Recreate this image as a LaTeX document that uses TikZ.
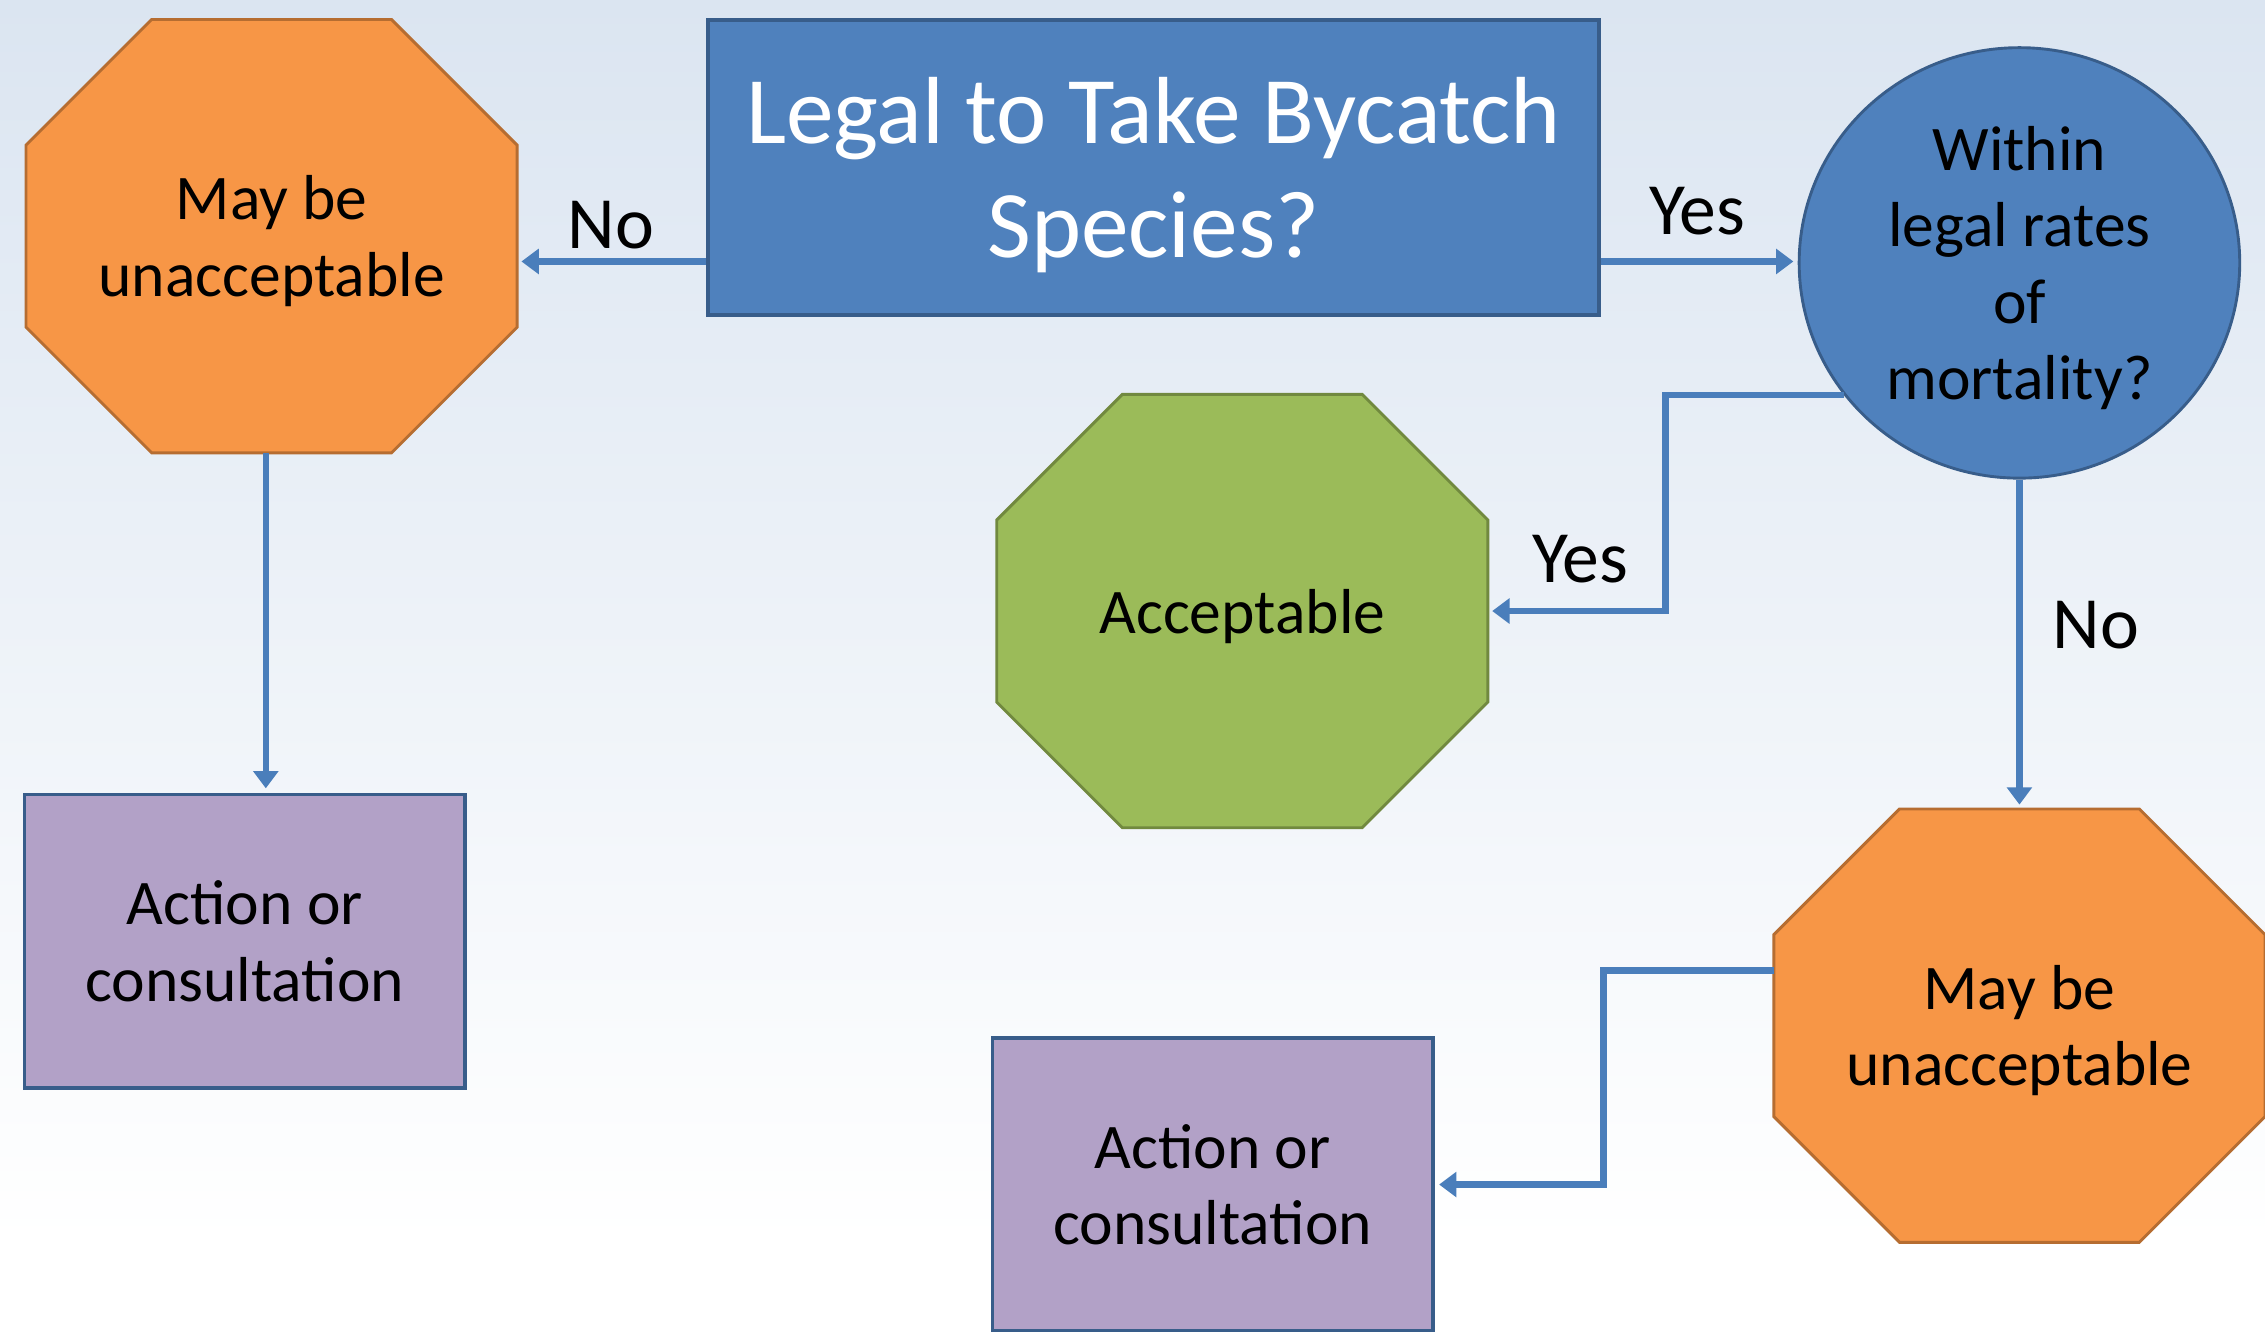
\documentclass[tikz,border=0pt]{standalone}
\usepackage{fontspec}
\setmainfont{Carlito}
\usetikzlibrary{shapes.geometric,arrows.meta,calc}

\definecolor{bgtop}{RGB}{219,229,241}
\definecolor{orgfill}{RGB}{247,150,70}
\definecolor{orgline}{RGB}{182,109,49}
\definecolor{bluefill}{RGB}{79,129,189}
\definecolor{blueline}{RGB}{56,93,138}
\definecolor{grnfill}{RGB}{155,187,89}
\definecolor{grnline}{RGB}{113,137,63}
\definecolor{purfill}{RGB}{178,161,199}
\definecolor{arrowblue}{RGB}{74,126,187}

\newcommand\txtbody{\fontsize{22}{26.5}\selectfont}
\newcommand\txthead{\fontsize{33}{39.5}\selectfont}
\newcommand\txtlbl{\fontsize{25.5}{30}\selectfont}

\pgfdeclarelayer{backdrop}
\pgfdeclarelayer{shapes}
\pgfsetlayers{backdrop,shapes,main}

% octagon behind a named node: name, fill, line
\newcommand\octshape[3]{%
  \filldraw[fill=#2, draw=#3, line width=1pt, line join=miter]
    ($(#1.north west)+(87,0)$) -- ($(#1.north east)+(-87,0)$) -- ($(#1.north east)+(0,87)$)
    -- ($(#1.south east)+(0,-87)$) -- ($(#1.south east)+(-87,0)$) -- ($(#1.south west)+(87,0)$)
    -- ($(#1.south west)+(0,-87)$) -- ($(#1.north west)+(0,87)$) -- cycle;}

\tikzset{
  octbox/.style={rectangle, minimum width=170pt, minimum height=150pt, inner sep=0pt, outer sep=0pt,
    align=center, text depth=0pt, font=\txtbody},
  qbox/.style={rectangle, fill=bluefill, draw=blueline, line width=1.25pt, minimum width=308.5pt,
    minimum height=102pt, align=center, text depth=0pt, text=white, font=\txthead},
  circbox/.style={ellipse, fill=bluefill, draw=blueline, line width=1pt, minimum width=152.5pt,
    minimum height=149pt, inner sep=0pt, align=center, text depth=0pt, font=\txtbody},
  actbox/.style={rectangle, fill=purfill, draw=blueline, line width=1.25pt, minimum width=152.5pt,
    minimum height=101.5pt, align=center, text depth=0pt, font=\txtbody},
  flow/.style={draw=arrowblue, line width=2.25pt, shorten >=1.5pt, -{Triangle[length=6pt,width=8.5pt]}},
  lbl/.style={inner sep=0pt, font=\txtlbl}
}

\begin{document}
\begin{tikzpicture}[x=0.5pt,y=0.5pt,yscale=-1,xscale=1]
%uncomment if require: \path (0,922); %set diagram left start at 0, and has height of 922
\useasboundingbox (0,0) rectangle (1568,922);
\clip (0,0) rectangle (1568,922);

%Background
\begin{pgfonlayer}{backdrop}
\fill[white] (0,0) rectangle (1568,922);
\shade[top color=bgtop, bottom color=white] (0,0) rectangle (1568,860);
\end{pgfonlayer}

%Shape: Rectangle [question]
\node[qbox] (legal) at (798.5,116) {Legal to Take Bycatch\\Species?};
%Shape: Octagon [left]
\node[octbox] (mayA) at (188,163.5) {May be\\unacceptable};
%Shape: Ellipse
\node[circbox] (within) at (1398,182) {Within\\legal rates\\of\\mortality?};
%Shape: Octagon [middle]
\node[octbox] (accept) at (860,423) {Acceptable};
%Shape: Octagon [right]
\node[octbox] (mayB) at (1398,710) {May be\\unacceptable};
%Shape: Rectangle [left]
\node[actbox] (actA) at (169.5,651.5) {Action or\\consultation};
%Shape: Rectangle [bottom]
\node[actbox] (actB) at (839.5,820) {Action or\\consultation};

\begin{pgfonlayer}{shapes}
\octshape{mayA}{orgfill}{orgline}
\octshape{accept}{grnfill}{grnline}
\octshape{mayB}{orgfill}{orgline}
\end{pgfonlayer}

%Straight Lines
\draw[flow] ($(legal.west)+(0,65)$) coordinate (noA) -- (noA -| mayA.east);
\draw[flow] ($(legal.east)+(0,65)$) coordinate (yesA) -- (yesA -| within.west);
\draw[flow] (within.217) -- ++(-123.5,0) |- (accept.east);
\draw[flow] (within.south) -- (mayB.north);
\draw[flow] ($(mayA.south)+(-4,0)$) coordinate (downA) -- (downA |- actA.north);
\draw[flow] ($(mayB.west)+(0,-38)$) -- ++(-118,0) |- (actB.east);

% Text Node
\node[lbl] (noAtxt) at (423,156) {No};
% Text Node
\node[lbl] (yesAtxt) at (1175,146) {Yes};
% Text Node
\node[lbl] (yesBtxt) at (1094,387) {Yes};
% Text Node
\node[lbl] (noBtxt) at (1451,433) {No};

\end{tikzpicture}
\end{document}
